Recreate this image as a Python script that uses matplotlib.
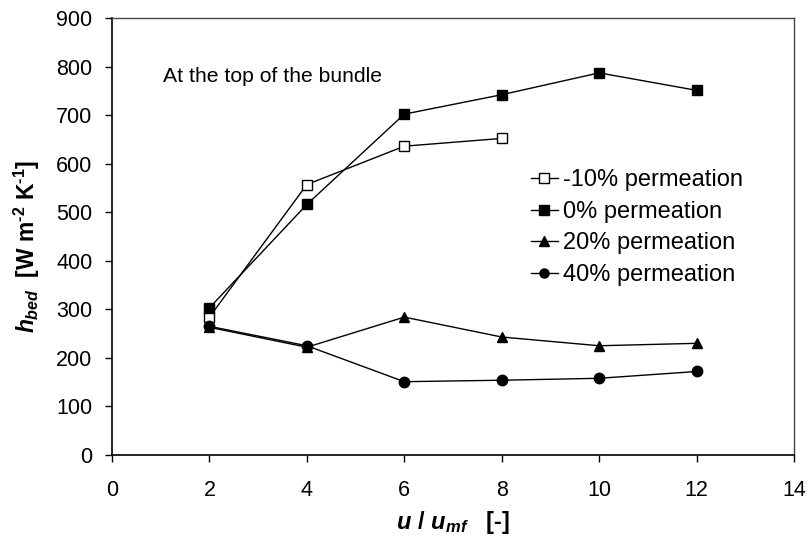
import matplotlib
matplotlib.use("Agg")
import matplotlib.pyplot as plt

plt.rcParams['font.family'] = ['Liberation Sans', 'DejaVu Sans']
plt.rcParams['mathtext.fontset'] = 'custom'
plt.rcParams['mathtext.rm'] = 'Liberation Sans:bold'
plt.rcParams['mathtext.it'] = 'Liberation Sans:bold:italic'
plt.rcParams['mathtext.bf'] = 'Liberation Sans:bold'

# velocity ratio u/u_mf
x_m10 = [2, 4, 6, 8]
x_all = [2, 4, 6, 8, 10, 12]

# bed-to-surface heat transfer coefficient [W m^-2 K^-1]
h_m10 = [284, 557, 636, 652]
h_0 = [303, 516, 702, 742, 787, 751]
h_20 = [263, 222, 284, 243, 225, 230]
h_40 = [265, 225, 151, 154, 158, 172]

labels = ['-10% permeation', '0% permeation', '20% permeation', '40% permeation']

fig = plt.figure(figsize=(8.08, 5.42), dpi=100)
ax = fig.add_axes([0.1386, 0.1605, 0.8441, 0.8063])

lw = 1.0
ax.plot(x_m10, h_m10, '-', color='black', lw=lw, marker='s', ms=7,
        mfc='white', mec='black', mew=1.0, label=labels[0])
ax.plot(x_all, h_0, '-', color='black', lw=lw, marker='s', ms=7,
        mfc='black', mec='black', label=labels[1])
ax.plot(x_all, h_20, '-', color='black', lw=lw, marker='^', ms=7.5,
        mfc='black', mec='black', label=labels[2])
ax.plot(x_all, h_40, '-', color='black', lw=lw, marker='o', ms=7.5,
        mfc='black', mec='black', label=labels[3])

ax.set_xlim(0, 14)
ax.set_ylim(0, 900)
ax.set_xticks(range(0, 15, 2))
ax.set_yticks(range(0, 901, 100))
for side in ['left', 'bottom']:
    ax.spines[side].set_linewidth(1.2)
for side in ['top', 'right']:
    ax.spines[side].set_linewidth(1.0)
    ax.spines[side].set_color('#444444')
ax.tick_params(direction='out', length=5, width=1.0, labelsize=15.5, colors='black')
ax.tick_params(axis='x', pad=13)
ax.tick_params(axis='y', pad=9)

ax.set_xlabel(r'$u\ /\ u_{mf}$   [-]', fontsize=17, fontweight='bold', labelpad=6)
ax.set_ylabel(r'$h_{bed}$  [W m$^{\text{-2}}$ K$^{\text{-1}}$]', fontsize=16.5,
              fontweight='bold', labelpad=10)
ax.yaxis.label.set_y(0.477)

ax.text(1.05, 780, 'At the top of the bundle', fontsize=15.2, va='center', ha='left')

leg = ax.legend(loc='upper left', bbox_to_anchor=(0.6, 0.675), frameon=False,
                fontsize=17, handlelength=1.15, handletextpad=0.2,
                labelspacing=0.4, borderaxespad=0)
for h in leg.legend_handles:
    h.set_markersize(6.5)

fig.savefig('out.png', dpi=100)
